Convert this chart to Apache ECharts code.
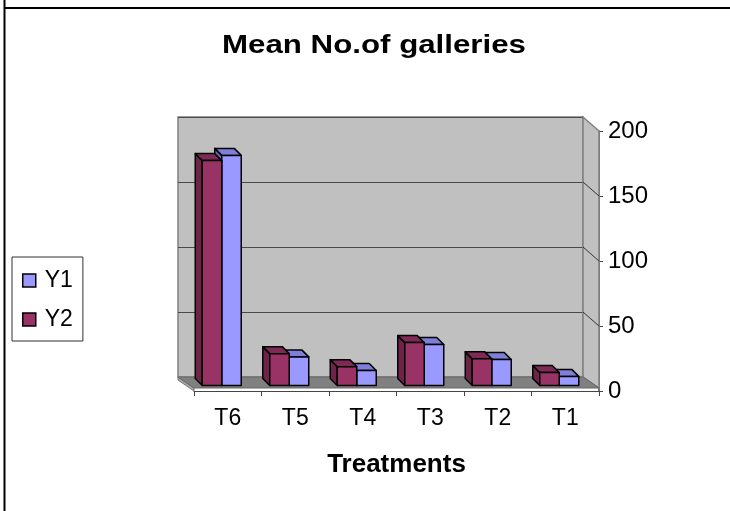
<!DOCTYPE html>
<html><head><meta charset="utf-8">
<script src="https://cdn.jsdelivr.net/npm/echarts@6/dist/echarts.min.js"></script>
<style>html,body{margin:0;padding:0;background:#fff}#c{width:730px;height:511px}</style>
</head><body><div id="c"></div>
<script>
const categories = ['T6', 'T5', 'T4', 'T3', 'T2', 'T1'];
const y1Values = [177, 22, 11.5, 31.5, 20, 7];
const y2Values = [173, 24.5, 14.5, 33, 20.5, 10];
const yTicks = [0, 50, 100, 150, 200];
const seriesNames = ['Y1', 'Y2'];
const titleText = 'Mean No.of galleries';
const xAxisTitle = 'Treatments';

const WALL_DX = -16, WALL_DY = -14;
const BAR_DX = -6, BAR_DY = -5.5;
const DEPTH_DX = -7, DEPTH_DY = -7;
const BAR_W = 19.5;
const FONT = '"Liberation Sans", Arial, sans-serif';
const yMax = yTicks[yTicks.length - 1];

const colors = {
  Y1: {front: '#9999ff', top: '#7f7fd9', side: '#6b6bb8'},
  Y2: {front: '#993366', top: '#7d2a55', side: '#6e2449'}
};

function barRender(name, side) {
  return function (params, api) {
    const idx = api.value(0);
    const v = api.value(1);
    const base = api.coord([idx, 0]);
    const top = api.coord([idx, v]);
    const cx = base[0] + BAR_DX;
    const x0 = side < 0 ? cx - BAR_W : cx;
    const x1 = x0 + BAR_W;
    const yb = base[1] + BAR_DY;
    const yt = top[1] + BAR_DY;
    const c = colors[name];
    const st = {stroke: '#000', lineWidth: 1.5, lineJoin: 'round'};
    return {type: 'group', children: [
      {type: 'polygon', shape: {points: [[x0, yb], [x0, yt], [x0 + DEPTH_DX, yt + DEPTH_DY], [x0 + DEPTH_DX, yb + DEPTH_DY]]}, style: Object.assign({fill: c.side}, st)},
      {type: 'polygon', shape: {points: [[x0, yt], [x1, yt], [x1 + DEPTH_DX, yt + DEPTH_DY], [x0 + DEPTH_DX, yt + DEPTH_DY]]}, style: Object.assign({fill: c.top}, st)},
      {type: 'rect', shape: {x: x0, y: yt, width: BAR_W, height: yb - yt}, style: Object.assign({fill: c.front}, st)}
    ]};
  };
}

function wallRender(params, api) {
  const p0 = api.coord([0, 0]);
  const bw = api.size([1, 0])[0];
  const xl = p0[0] - bw / 2;
  const xr = xl + bw * categories.length;
  const y0 = p0[1];
  const yTop = api.coord([0, yMax])[1];
  const children = [];
  children.push({type: 'polygon', shape: {points: [[xr + WALL_DX, yTop + WALL_DY], [xr, yTop], [xr, y0 - 3], [xr + WALL_DX, y0 + WALL_DY]]},
    style: {fill: '#c0c0c0', stroke: '#808080', lineWidth: 1.5}});
  yTicks.forEach(function (t) {
    if (t === 0 || t === yMax) return;
    const yv = api.coord([0, t])[1];
    children.push({type: 'line', shape: {x1: xr + WALL_DX, y1: yv + WALL_DY, x2: xr, y2: yv}, style: {stroke: '#333', lineWidth: 1}});
  });
  children.push({type: 'polygon', shape: {points: [[xl + WALL_DX, y0 + WALL_DY], [xl, y0 - 3], [xl, y0], [xl + WALL_DX, y0 + WALL_DY + 3]]},
    style: {fill: '#a8a8a8', stroke: '#777', lineWidth: 1}});
  children.push({type: 'polygon', shape: {points: [[xl, y0 - 3], [xr, y0 - 3], [xr + WALL_DX, y0 + WALL_DY], [xl + WALL_DX, y0 + WALL_DY]]},
    style: {fill: '#808080', stroke: '#666', lineWidth: 1}});
  return {type: 'group', children: children};
}

const chart = echarts.init(document.getElementById('c'), null, {renderer: 'canvas'});
chart.setOption({
  animation: false,
  backgroundColor: '#fff',
  legend: {
    data: seriesNames, orient: 'vertical', left: 12, top: 257,
    borderColor: '#333', borderWidth: 1, padding: [12, 10, 10, 10],
    itemGap: 16, itemWidth: 13, itemHeight: 13, icon: 'rect',
    itemStyle: {borderColor: '#000', borderWidth: 1.5},
    textStyle: {fontSize: 23, fontFamily: FONT, color: '#000', padding: [0, 0, 0, 4]}
  },
  grid: [
    {left: 178, right: 147, top: 117, bottom: 134, show: true, backgroundColor: '#c0c0c0', borderColor: '#808080', borderWidth: 1.5},
    {left: 194, right: 131, top: 131, bottom: 120}
  ],
  xAxis: [
    {type: 'category', gridIndex: 0, data: categories, show: false},
    {type: 'category', gridIndex: 1, data: categories,
      axisLine: {lineStyle: {color: '#444', width: 1}},
      axisTick: {show: true, length: 5, lineStyle: {color: '#444'}},
      axisLabel: {fontSize: 23, fontFamily: FONT, color: '#000', margin: 16},
      name: xAxisTitle, nameLocation: 'middle', nameGap: 61,
      nameTextStyle: {fontSize: 26, fontWeight: 'bold', fontFamily: FONT, color: '#000'}
    }
  ],
  yAxis: [
    {type: 'value', gridIndex: 0, min: 0, max: yMax, interval: 50,
      axisLabel: {show: false}, axisLine: {show: false}, axisTick: {show: false},
      splitLine: {show: true, lineStyle: {color: '#4a4a4a', width: 1}}},
    {type: 'value', gridIndex: 1, position: 'right', min: 0, max: yMax, interval: 50,
      axisLine: {show: true, lineStyle: {color: '#444', width: 1.5}},
      axisTick: {show: true, length: 4, lineStyle: {color: '#444'}},
      axisLabel: {fontSize: 24, fontFamily: FONT, color: '#000', margin: 9},
      splitLine: {show: false}}
  ],
  series: [
    {type: 'custom', name: 'walls', xAxisIndex: 1, yAxisIndex: 1, z: 1, silent: true,
      renderItem: wallRender, data: [[0, 0]], encode: {x: 0, y: 1}},
    {type: 'custom', name: 'Y1', xAxisIndex: 1, yAxisIndex: 1, z: 3,
      itemStyle: {color: colors.Y1.front},
      renderItem: barRender('Y1', 1), data: y1Values.map(function (v, i) { return [i, v]; }), encode: {x: 0, y: 1}},
    {type: 'custom', name: 'Y2', xAxisIndex: 1, yAxisIndex: 1, z: 3,
      itemStyle: {color: colors.Y2.front},
      renderItem: barRender('Y2', -1), data: y2Values.map(function (v, i) { return [i, v]; }), encode: {x: 0, y: 1}}
  ],
  graphic: [
    {type: 'text', x: 374, y: 46, scaleX: 1.25, originX: 0,
      style: {text: titleText, font: 'bold 25px ' + FONT, fill: '#000', align: 'center', verticalAlign: 'middle'}},
    {type: 'line', shape: {x1: 4.5, y1: 0, x2: 4.5, y2: 511}, style: {stroke: '#000', lineWidth: 2}, z: 100},
    {type: 'line', shape: {x1: 4, y1: 8, x2: 730, y2: 8}, style: {stroke: '#000', lineWidth: 2}, z: 100}
  ]
});
</script>
</body></html>
